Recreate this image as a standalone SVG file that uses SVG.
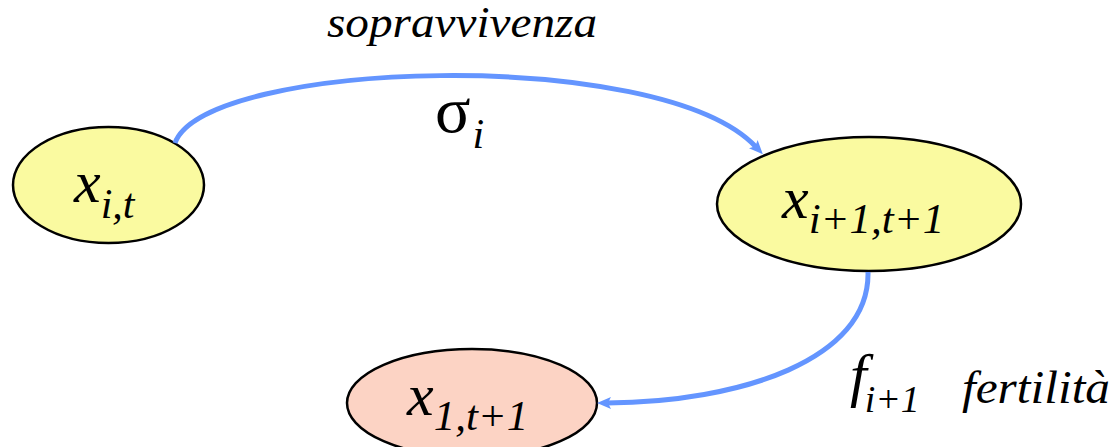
<svg xmlns="http://www.w3.org/2000/svg" width="1115" height="447" viewBox="0 0 1115 447">
<style>
.node{stroke:#000;stroke-width:2.5}
.y{fill:#FAFAA0}
.p{fill:#FCD3C4}
text{font-family:"Liberation Serif","Times New Roman",Times,Tinos,"Noto Serif","DejaVu Serif",serif;fill:#000}
.t{font-style:italic}
.c{fill:none;stroke:#6495FF;stroke-width:5}
</style>
<defs>
<marker id="ah" markerUnits="userSpaceOnUse" markerWidth="16" markerHeight="14" refX="4" refY="6" orient="auto" viewBox="0 0 16 12">
<path d="M0,0 L14,6 L0,12 L3,6 z" fill="#6495FF"/>
</marker>
</defs>
<rect width="1115" height="447" fill="#fff"/>
<g id="node-xit">
<ellipse class="node y" cx="108.5" cy="185" rx="95.5" ry="58"/>
<text class="t" x="74" y="202" font-size="60">x<tspan font-size="42" dy="16">i,t</tspan></text>
</g>
<g id="node-xi1t1">
<ellipse class="node y" cx="869" cy="204" rx="152" ry="67"/>
<text class="t" x="782" y="218" font-size="60">x<tspan font-size="43" dy="15">i+1,t+1</tspan></text>
</g>
<g id="node-x1t1">
<ellipse class="node p" cx="472" cy="403" rx="125" ry="54"/>
<text class="t" x="407" y="415" font-size="60">x<tspan font-size="43" dy="15">1,t+1</tspan></text>
</g>
<g id="connectors">
<path class="c" d="M175,143 C205,60 660,45 756,147" marker-end="url(#ah)"/>
<path class="c" d="M868,272 C870,360 740,402 607,403" marker-end="url(#ah)"/>
</g>
<g id="labels">
<text class="t" x="327" y="37" font-size="44" textLength="270" lengthAdjust="spacingAndGlyphs">sopravvivenza</text>
<text x="435" y="132" font-size="66">σ<tspan class="t" font-size="42" dy="16" dx="2">i</tspan></text>
<text class="t" x="850" y="395" font-size="60">f<tspan font-size="38" dy="17" dx="-2">i+1</tspan></text>
<text class="t" x="962" y="403" font-size="46" textLength="148" lengthAdjust="spacingAndGlyphs">fertilità</text>
</g>
</svg>
